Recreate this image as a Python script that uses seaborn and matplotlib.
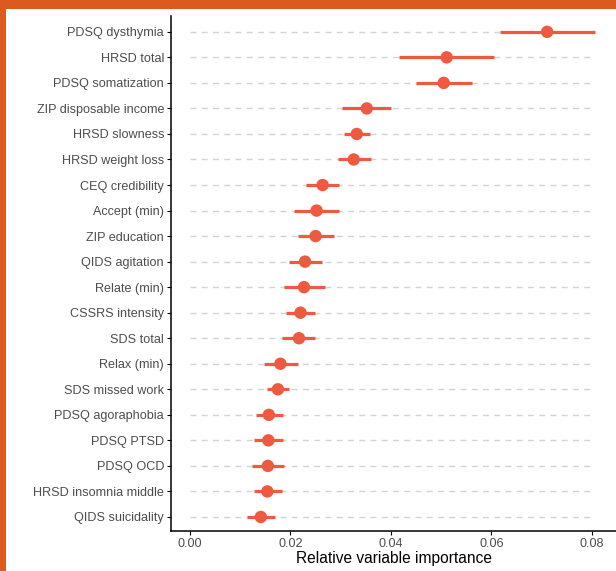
import pandas as pd
import seaborn as sns
import matplotlib.pyplot as plt
from matplotlib.patches import Rectangle

# variable importance (point estimate + interval)
variables = ['PDSQ dysthymia', 'HRSD total', 'PDSQ somatization', 'ZIP disposable income',
             'HRSD slowness', 'HRSD weight loss', 'CEQ credibility', 'Accept (min)',
             'ZIP education', 'QIDS agitation', 'Relate (min)', 'CSSRS intensity',
             'SDS total', 'Relax (min)', 'SDS missed work', 'PDSQ agoraphobia',
             'PDSQ PTSD', 'PDSQ OCD', 'HRSD insomnia middle', 'QIDS suicidality']
importance = [0.0711, 0.0511, 0.0505, 0.0352, 0.0332, 0.0326, 0.0264, 0.0252, 0.0250, 0.0229,
              0.0227, 0.0220, 0.0217, 0.0180, 0.0175, 0.0157, 0.0156, 0.0155, 0.0154, 0.0141]
lower = [0.0618, 0.0417, 0.0450, 0.0303, 0.0307, 0.0295, 0.0230, 0.0208, 0.0215, 0.0198,
         0.0188, 0.0192, 0.0184, 0.0147, 0.0153, 0.0131, 0.0128, 0.0123, 0.0127, 0.0113]
upper = [0.0806, 0.0606, 0.0561, 0.0401, 0.0358, 0.0360, 0.0297, 0.0296, 0.0287, 0.0262,
         0.0269, 0.0249, 0.0249, 0.0215, 0.0198, 0.0185, 0.0185, 0.0188, 0.0183, 0.0170]
xticks = [0.00, 0.02, 0.04, 0.06, 0.08]

df = pd.DataFrame({'variable': variables, 'imp': importance, 'lo': lower, 'hi': upper})

col = '#EE5A3F'
txt = '#4D4D4D'

sns.set_style('white')
plt.rcParams['font.family'] = ['Liberation Sans', 'DejaVu Sans']

fig = plt.figure(figsize=(6.16, 5.71), dpi=100, facecolor='#DD5A1E')
# white page inside the orange frame
fig.patches.append(Rectangle((6 / 616, 0), 1, 1 - 9 / 571, transform=fig.transFigure,
                             facecolor='white', edgecolor='none', zorder=-10))
ax = fig.add_axes([171 / 616, 1 - 531 / 571, 1 - 171 / 616, (531 - 16) / 571])
ax.set_facecolor('white')

# dashed guide lines from 0 to the largest upper bound
ax.hlines(df['variable'], 0, df['hi'].max(), colors='#D3D3D3', linewidth=1.0,
          linestyles=(0, (4.3, 3.8)), zorder=1)
ax.hlines(df['variable'], df['lo'], df['hi'], colors=col, linewidth=2.3, zorder=2)
sns.scatterplot(data=df, x='imp', y='variable', color=col, s=80, edgecolor='none',
                zorder=3, ax=ax)

ax.set_ylim(len(variables) - 0.45, -0.62)
ax.set_xlim(-0.00378, 0.0848)
ax.set_xticks(xticks)
ax.set_xticklabels([f'{t:.2f}' for t in xticks])
ax.set_xlabel('Relative variable importance', fontsize=11.2, color='black', labelpad=1)
ax.set_ylabel('')
ax.tick_params(axis='both', which='both', length=3, width=0.8, color='black',
               labelsize=9.1, labelcolor=txt, pad=2, left=True, bottom=True)

for s in ['top', 'right']:
    ax.spines[s].set_visible(False)
for s in ['left', 'bottom']:
    ax.spines[s].set_color('black')
    ax.spines[s].set_linewidth(1.1)

fig.savefig('out.png', dpi=100, facecolor=fig.get_facecolor())
